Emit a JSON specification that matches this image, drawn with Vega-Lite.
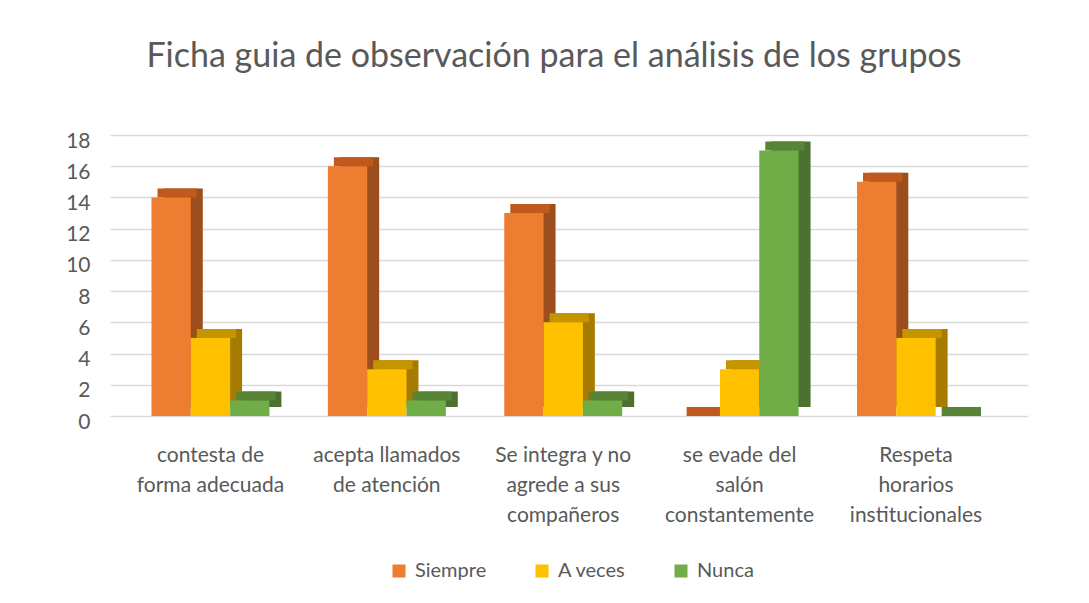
{
  "$schema": "https://vega.github.io/schema/vega-lite/v6.json",
  "width": 918,
  "height": 281,
  "autosize": {"type": "none"},
  "padding": {"left": 110, "top": 135, "right": 61, "bottom": 187},
  "background": "white",
  "title": {
    "text": "Ficha guia de observación para el análisis de los grupos",
    "font": "Lato",
    "fontSize": 34,
    "fontWeight": "normal",
    "color": "#595959",
    "anchor": "middle",
    "frame": "group",
    "dx": -15,
    "offset": 56
  },
  "data": {
    "values": [
      {"categoria": "contesta de forma adecuada", "serie": "Siempre", "valor": 14},
      {"categoria": "contesta de forma adecuada", "serie": "A veces", "valor": 5},
      {"categoria": "contesta de forma adecuada", "serie": "Nunca", "valor": 1},
      {"categoria": "acepta llamados de atención", "serie": "Siempre", "valor": 16},
      {"categoria": "acepta llamados de atención", "serie": "A veces", "valor": 3},
      {"categoria": "acepta llamados de atención", "serie": "Nunca", "valor": 1},
      {"categoria": "Se integra y no agrede a sus compañeros", "serie": "Siempre", "valor": 13},
      {"categoria": "Se integra y no agrede a sus compañeros", "serie": "A veces", "valor": 6},
      {"categoria": "Se integra y no agrede a sus compañeros", "serie": "Nunca", "valor": 1},
      {"categoria": "se evade del salón constantemente", "serie": "Siempre", "valor": 0},
      {"categoria": "se evade del salón constantemente", "serie": "A veces", "valor": 3},
      {"categoria": "se evade del salón constantemente", "serie": "Nunca", "valor": 17},
      {"categoria": "Respeta horarios institucionales", "serie": "Siempre", "valor": 15},
      {"categoria": "Respeta horarios institucionales", "serie": "A veces", "valor": 5},
      {"categoria": "Respeta horarios institucionales", "serie": "Nunca", "valor": 0}
    ]
  },
  "encoding": {
    "x": {
      "field": "categoria",
      "type": "nominal",
      "sort": null,
      "scale": {"paddingInner": 0, "paddingOuter": 0.1023, "align": 0.34},
      "axis": {
        "title": null,
        "labelAngle": 0,
        "domain": false,
        "ticks": false,
        "labelPadding": 28,
        "labelFont": "Lato",
        "labelFontSize": 21,
        "labelLineHeight": 30,
        "labelColor": "#595959",
        "labelLimit": 300,
        "labelExpr": "datum.value == 'contesta de forma adecuada' ? ['contesta de', 'forma adecuada'] : datum.value == 'acepta llamados de atención' ? ['acepta llamados', 'de atención'] : datum.value == 'Se integra y no agrede a sus compañeros' ? ['Se integra y no', 'agrede a sus', 'compañeros'] : datum.value == 'se evade del salón constantemente' ? ['se evade del', 'salón', 'constantemente'] : ['Respeta', 'horarios', 'institucionales']"
      }
    },
    "y": {
      "field": "valor",
      "type": "quantitative",
      "scale": {"domain": [0, 18], "nice": false},
      "axis": {
        "title": null,
        "values": [0, 2, 4, 6, 8, 10, 12, 14, 16, 18],
        "domain": false,
        "ticks": false,
        "grid": true,
        "gridColor": "#d9d9d9",
        "gridWidth": 1.3,
        "labelPadding": 20,
        "labelFont": "Lato",
        "labelFontSize": 21,
        "labelColor": "#595959",
        "labelOffset": 6
      }
    }
  },
  "layer": [
    {
      "mark": {"type": "bar", "yOffset": -9, "y2Offset": -9},
      "encoding": {
        "xOffset": {
          "field": "serie",
          "type": "nominal",
          "sort": ["Siempre", "A veces", "Nunca"],
          "scale": {"paddingInner": 0, "paddingOuter": 0.743, "align": 0.705}
        },
        "fill": {
          "field": "serie",
          "type": "nominal",
          "scale": {"domain": ["Siempre", "A veces", "Nunca"], "range": ["#9C4F1D", "#A67C00", "#4A7130"]},
          "legend": null
        }
      }
    },
    {
      "mark": {"type": "bar", "yOffset": -9},
      "encoding": {
        "xOffset": {
          "field": "serie",
          "type": "nominal",
          "sort": ["Siempre", "A veces", "Nunca"],
          "scale": {"paddingInner": 0, "paddingOuter": 0.743, "align": 0.603}
        },
        "y2": {"field": "valor"},
        "fill": {
          "field": "serie",
          "type": "nominal",
          "scale": {"domain": ["Siempre", "A veces", "Nunca"], "range": ["#BF5A1C", "#C59500", "#578436"]},
          "legend": null
        }
      }
    },
    {
      "mark": {"type": "bar"},
      "encoding": {
        "xOffset": {
          "field": "serie",
          "type": "nominal",
          "sort": ["Siempre", "A veces", "Nunca"],
          "scale": {"paddingInner": 0, "paddingOuter": 0.743, "align": 0.5}
        },
        "color": {
          "field": "serie",
          "type": "nominal",
          "scale": {"domain": ["Siempre", "A veces", "Nunca"], "range": ["#ED7D31", "#FFC000", "#70AD47"]},
          "legend": {
            "orient": "none",
            "legendX": 279,
            "legendY": 426,
            "direction": "horizontal",
            "title": null,
            "symbolType": "square",
            "symbolSize": 169,
            "symbolStrokeWidth": 0,
            "labelFont": "Lato",
            "labelFontSize": 20,
            "labelColor": "#595959",
            "labelOffset": 6,
            "columnPadding": 45
          }
        }
      }
    }
  ],
  "resolve": {"scale": {"fill": "independent", "xOffset": "independent"}},
  "config": {"view": {"stroke": null}}
}
